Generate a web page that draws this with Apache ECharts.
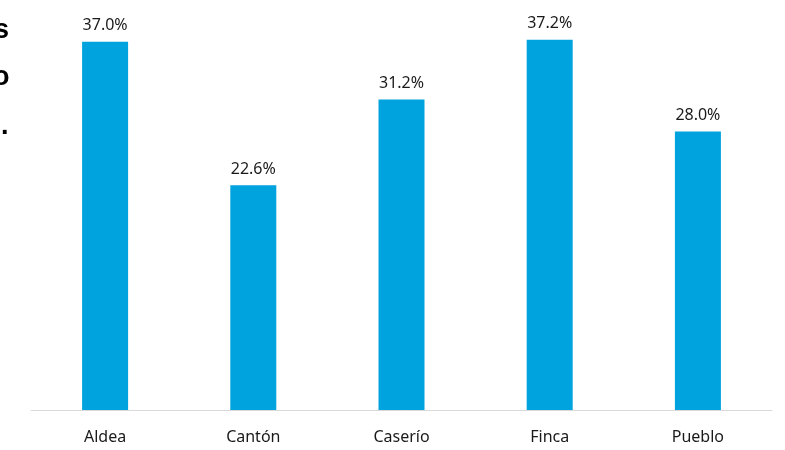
<!DOCTYPE html>
<html lang="es">
<head>
    <meta charset="UTF-8">
    <title>Grafico</title>
    <style>
        *{
            margin: 0;
            padding: 0;
        }
        body{
            background: #fff;
        }
        .box{
            width: 785px;
            height: 450px;
        }
    </style>
</head>
<body>
    <div class="box" id="chart"></div>
    <script src="https://cdn.jsdelivr.net/npm/echarts@6/dist/echarts.min.js"></script>
    <script>
        var categorias = ['Aldea', 'Cantón', 'Caserío', 'Finca', 'Pueblo'];
        var valores = [37.0, 22.6, 31.2, 37.2, 28.0];
        // restos del titulo cortado a la izquierda
        var fragmentos = ['s', 'o', '.'];

        var myChart = echarts.init(document.getElementById('chart'));

        var option = {
            animation: false,
            grid: {
                left: 31,
                right: 13,
                top: 12,
                bottom: 40
            },
            graphic: [
                { type: 'text', left: -6, top: 17, style: { text: fragmentos[0], font: 'bold 27px "Liberation Sans"', fill: '#000' } },
                { type: 'text', left: -7, top: 64, style: { text: fragmentos[1], font: 'bold 27px "Liberation Sans"', fill: '#000' } },
                { type: 'text', left: 1, top: 113, style: { text: fragmentos[2], font: 'bold 27px "Liberation Sans"', fill: '#000' } }
            ],
            xAxis: {
                type: 'category',
                data: categorias,
                axisLine: { lineStyle: { color: '#d9d9d9', width: 1 } },
                axisTick: { show: false },
                axisLabel: {
                    color: '#1a1a1a',
                    fontFamily: 'Noto Sans',
                    fontSize: 16,
                    margin: 19
                }
            },
            yAxis: {
                type: 'value',
                min: 0,
                max: 40,
                show: false
            },
            series: [{
                type: 'bar',
                data: valores,
                barWidth: 46,
                itemStyle: { color: '#00A3DD' },
                label: {
                    show: true,
                    position: 'top',
                    distance: 8,
                    color: '#1a1a1a',
                    fontFamily: 'Noto Sans',
                    fontSize: 16,
                    formatter: function(p){
                        return p.value.toFixed(1) + '%';
                    }
                }
            }]
        };

        myChart.setOption(option);
    </script>
</body>
</html>
